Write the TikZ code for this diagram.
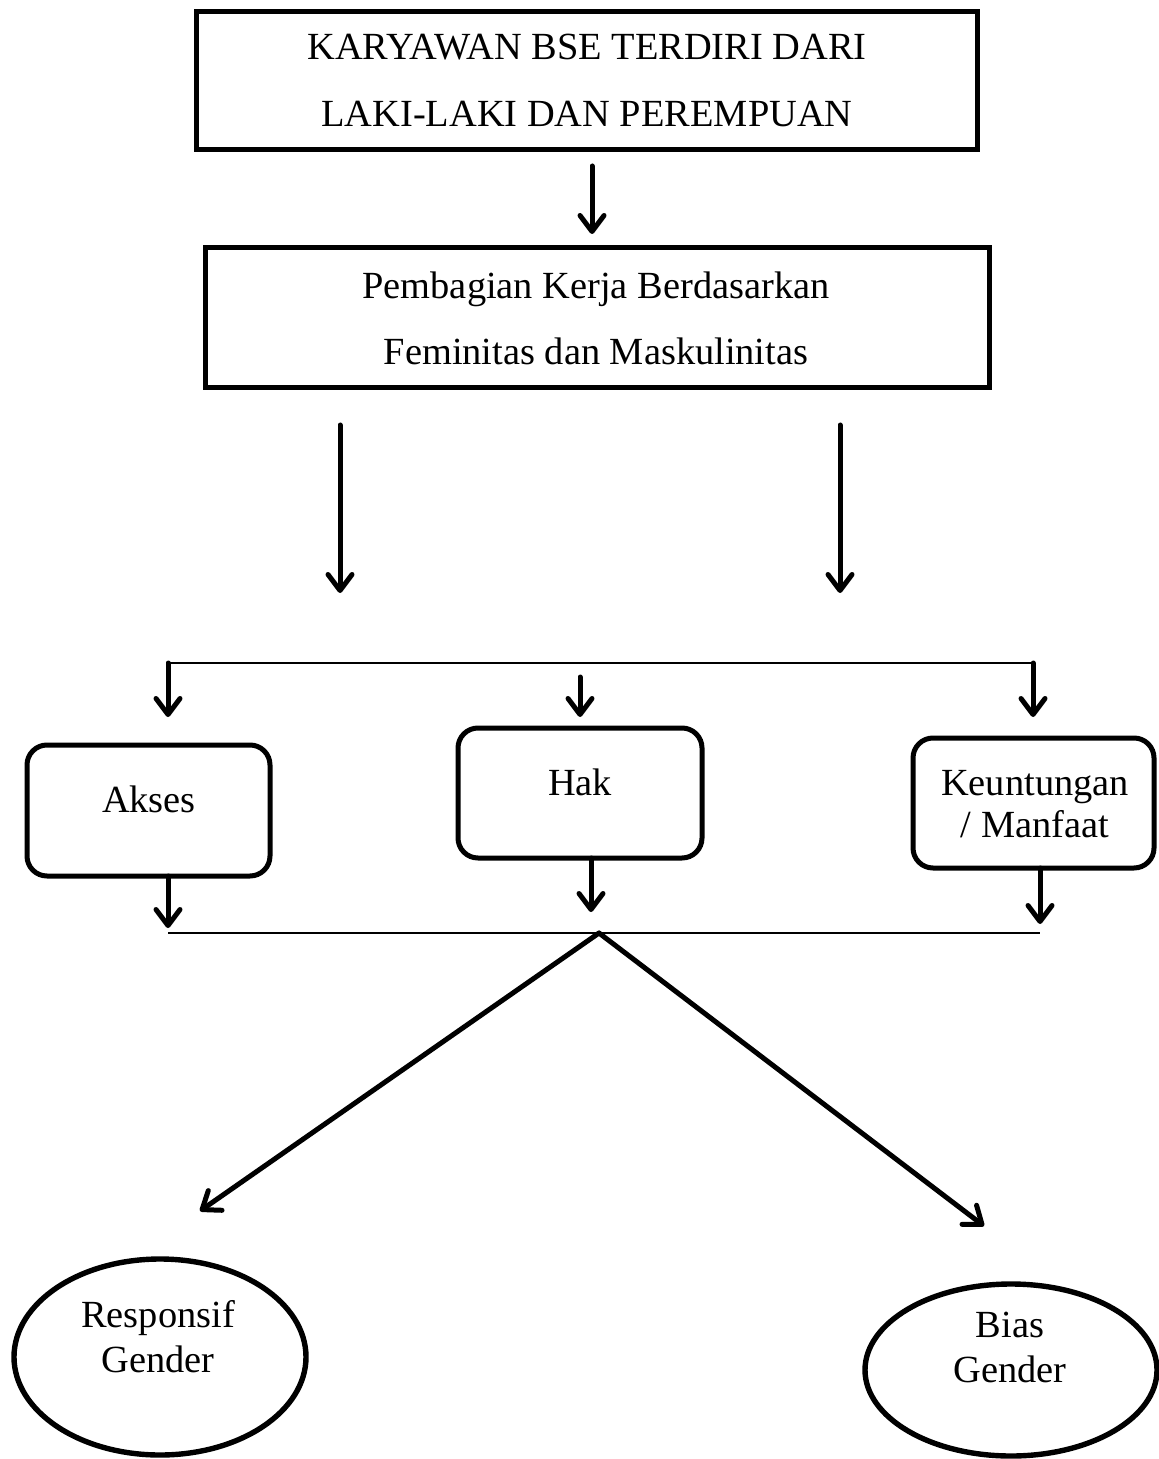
\documentclass[tikz,border=0pt]{standalone}
\usepackage{fontspec}
\setmainfont{Liberation Serif}
\usetikzlibrary{arrows.meta,shapes.geometric}
\begin{document}
\begin{tikzpicture}[x=0.5pt,y=-0.5pt,
  box/.style={draw, line width=2.5pt, inner sep=0pt, rectangle},
  rbox/.style={draw, line width=2.5pt, rounded corners=10pt, inner sep=0pt, rectangle},
  oval/.style={draw, ellipse, line width=2.7pt, inner sep=0pt},
  txt/.style={font=\fontsize{19.2}{22}\selectfont, inner sep=0pt, anchor=base},
  arr/.style={line width=2.5pt, line cap=round, -{Straight Barb[length=8pt,width=12pt,round]}},
  thinline/.style={line width=1pt}]
\useasboundingbox (0,0) rectangle (1158,1459);
% boxes
\node[box, minimum width=390.5pt, minimum height=69pt] (top) at (586.5,81) {};
\node[box, minimum width=392pt, minimum height=70pt] (mid) at (597,318) {};
\node[rbox, minimum width=121.5pt, minimum height=65.5pt] (akses) at (148.5,810.5) {};
\node[rbox, minimum width=122pt, minimum height=65pt] (hak) at (580,793) {};
\node[rbox, minimum width=120.5pt, minimum height=65pt] (keu) at (1033.5,803) {};
\node[oval, minimum width=146pt, minimum height=98pt] (resp) at (160,1357) {};
\node[oval, minimum width=146pt, minimum height=86pt] (bias) at (1011,1370) {};
% texts
\node[txt] (t1) at (587,60) {KARYAWAN BSE TERDIRI DARI};
\node[txt] (t2) at (587,127) {LAKI-LAKI DAN PEREMPUAN};
\node[txt] (t3) at (596,299) {Pembagian Kerja Berdasarkan};
\node[txt] (t4) at (596,365) {Feminitas dan Maskulinitas};
\node[txt] (t5) at (149,812) {Akses};
\node[txt] (t6) at (580,795) {Hak};
\node[txt] (t7) at (1035,795) {Keuntungan};
\node[txt] (t8) at (1035,837) {/ Manfaat};
\node[txt] (t9) at (158,1327) {Responsif};
\node[txt] (t10) at (158,1372) {Gender};
\node[txt] (t11) at (1010,1337) {Bias};
\node[txt] (t12) at (1010,1382) {Gender};
% coordinates
\coordinate (a1s) at (592,166);
\coordinate (a1e) at (592,234);
\coordinate (a2s) at (340,425);
\coordinate (a2e) at (340,593);
\coordinate (a3s) at (840,425);
\coordinate (a3e) at (840,593);
\coordinate (h1l) at (168,663);
\coordinate (h1r) at (1033,663);
\coordinate (b1e) at (168,717);
\coordinate (b2s) at (580,677);
\coordinate (b2e) at (580,717);
\coordinate (b3e) at (1033,717);
\coordinate (c1s) at (168,876);
\coordinate (c1e) at (168,928);
\coordinate (c2s) at (591,858);
\coordinate (c2e) at (591,912);
\coordinate (c3s) at (1040,868);
\coordinate (c3e) at (1040,924);
\coordinate (h2l) at (168,933);
\coordinate (h2r) at (1040,933);
\coordinate (split) at (599,933);
\coordinate (d1e) at (200,1211);
\coordinate (d2e) at (984,1226);
% connectors
\draw[arr] (a1s) -- (a1e);
\draw[arr] (a2s) -- (a2e);
\draw[arr] (a3s) -- (a3e);
\draw[thinline] (h1l) -- (h1r);
\draw[arr] (h1l) -- (b1e);
\draw[arr] (b2s) -- (b2e);
\draw[arr] (h1r) -- (b3e);
\draw[arr] (c1s) -- (c1e);
\draw[arr] (c2s) -- (c2e);
\draw[arr] (c3s) -- (c3e);
\draw[thinline] (h2l) -- (h2r);
\draw[arr] (split) -- (d1e);
\draw[arr] (split) -- (d2e);
\end{tikzpicture}
\end{document}
